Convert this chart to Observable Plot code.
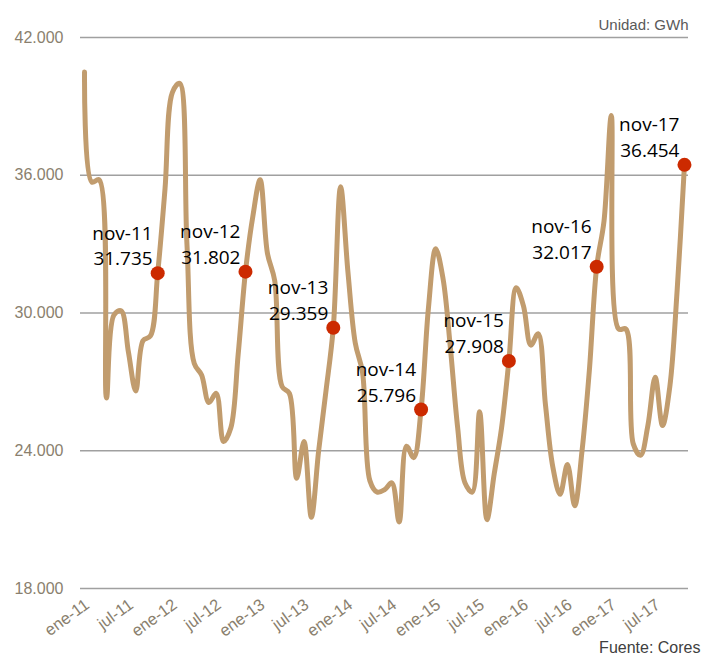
<!DOCTYPE html>
<html>
<head>
<meta charset="utf-8">
<script src="https://cdn.jsdelivr.net/npm/d3@7"></script>
<script src="https://cdn.jsdelivr.net/npm/@observablehq/plot@0.6"></script>
<style>
  html, body { margin: 0; padding: 0; background: #fff; }
  #chart { width: 703px; height: 659px; }
</style>
</head>
<body>
<div id="chart"></div>
<script>
// Monthly values (GWh), ene-11 .. nov-17
const monthlyValues = [
  40500, 35700, 35800, 26300, 29900, 30100, 28300, 26600, 28800, 29000, 31735, 35400,
  39600, 40000, 33000, 27800, 27300, 26100, 26500, 24400, 25000, 28200, 31802, 34200,
  35800, 32600, 31400, 26800, 26500, 22800, 24400, 21100, 24000, 26600, 29359, 35500,
  31800, 28700, 27400, 22700, 22200, 22300, 22600, 20900, 24200, 23700, 25796, 30200,
  32800, 31500, 28500, 25000, 22600, 22200, 25700, 21000, 23000, 25000, 27908, 31100,
  30300, 28600, 29100, 26000, 23300, 22100, 23400, 21600, 24000, 27500, 32017, 34000,
  38600, 29300, 29300, 24300, 23800, 25100, 27200, 25100, 26800, 31000, 36454
];
const tickLabels = ["ene-11","jul-11","ene-12","jul-12","ene-13","jul-13","ene-14",
  "jul-14","ene-15","jul-15","ene-16","jul-16","ene-17","jul-17"];
const markerLabels = ["nov-11","nov-12","nov-13","nov-14","nov-15","nov-16","nov-17"];
const markerValues = [31735, 31802, 29359, 25796, 27908, 32017, 36454];
const yTicks = [18000, 24000, 30000, 36000, 42000];

const fmt = d3.formatLocale({decimal: ",", thousands: ".", grouping: [3], currency: ["", ""]}).format(",");

const series = monthlyValues.map((v, i) => ({i, v}));
const markers = markerLabels.map((lab, k) => {
  const yr = +lab.split("-")[1];
  return {i: (yr - 11) * 12 + 10, v: markerValues[k], text: lab + "\n" + fmt(markerValues[k])};
});
const ticks = tickLabels.map((t, k) => ({i: k * 6, t}));

const labelColor = "#8a7f6e";
const x0 = -0.55;

const plot = Plot.plot({
  width: 703,
  height: 659,
  marginLeft: 80,
  marginRight: 15,
  marginTop: 37,
  marginBottom: 71,
  style: {fontFamily: "Liberation Sans, Arial, sans-serif", background: "#fff"},
  x: {domain: [x0, 82.55], axis: null},
  y: {domain: [18000, 42000], axis: null},
  marks: [
    Plot.ruleY(yTicks, {stroke: "#a0a0a0", strokeWidth: 1.5}),
    Plot.text(yTicks, {
      x: x0, y: d => d, text: d => fmt(d), textAnchor: "end", dx: -17,
      fill: labelColor, fontSize: 16
    }),
    Plot.text(ticks, {
      x: "i", y: 18000, text: "t", rotate: -36, textAnchor: "end",
      lineAnchor: "top", dy: 9, dx: -1, fill: labelColor, fontSize: 16.5
    }),
    Plot.line(series, {x: "i", y: "v", stroke: "#c19c6e", strokeWidth: 5, curve: "catmull-rom"}),
    Plot.dot(markers, {x: "i", y: "v", r: 7, fill: "#cc2a00", stroke: "none"}),
    Plot.text(markers, {
      x: "i", y: "v", text: "text", textAnchor: "end", lineAnchor: "bottom",
      dx: -5, dy: -8, fontSize: 19, lineHeight: 1.35, fill: "#000",
      fontFamily: "Open Sans, sans-serif"
    }),
    Plot.text(["Unidad: GWh"], {
      frameAnchor: "top-right", text: d => d, dy: -18, dx: 0,
      fill: "#595959", fontSize: 15
    }),
    Plot.text(["Fuente: Cores"], {
      frameAnchor: "bottom-right", text: d => d, dy: 64, dx: 12,
      fill: "#404040", fontSize: 16
    })
  ]
});
document.getElementById("chart").appendChild(plot);
</script>
</body>
</html>
